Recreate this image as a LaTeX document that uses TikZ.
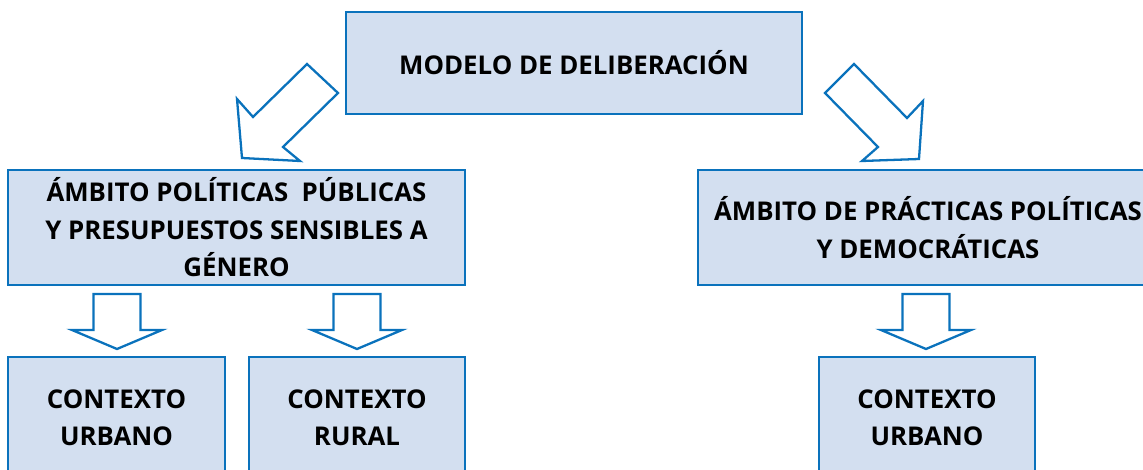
\documentclass[tikz,border=0pt]{standalone}
\usepackage{fontspec}
\setmainfont{Open Sans}
\usepackage{tikz}
\usetikzlibrary{positioning}

\definecolor{boxblue}{HTML}{0A72BC}
\definecolor{boxfill}{HTML}{D3DFF0}

\begin{document}
\begin{tikzpicture}[
    x=0.02cm, y=-0.02cm,
    box/.style={rectangle, draw=boxblue, line width=1.6pt, fill=boxfill, font=\fontsize{14.7}{21.3}\selectfont\bfseries, align=center, inner sep=0pt},
    blockarrow/.style={draw=boxblue, line width=1.3pt, fill=white, line join=miter},
]
    \useasboundingbox (0,0) rectangle (1143,470);
    \clip (0,0) rectangle (1143,470);

    % Top level
    \node[box, minimum width=9.12cm, minimum height=2.04cm] (modelo) at (574,63) {MODELO DE DELIBERACIÓN};

    % Second level
    \node[box, minimum width=9.14cm, minimum height=2.3cm] (publicas) at (236.5,227.5) {ÁMBITO POLÍTICAS\ \ PÚBLICAS\\Y PRESUPUESTOS SENSIBLES A\\GÉNERO};
    \node[box, minimum width=9.2cm, minimum height=2.3cm] (practicas) at (928,227.5) {ÁMBITO DE PRÁCTICAS POLÍTICAS\\Y DEMOCRÁTICAS};

    % Third level
    \node[box, minimum width=4.34cm, minimum height=2.44cm] (urbano) at (116.5,418) {CONTEXTO\\URBANO};
    \node[box, minimum width=4.32cm, minimum height=2.44cm] (rural) at (357,418) {CONTEXTO\\RURAL};
    \node[box, minimum width=4.32cm, minimum height=2.44cm] (urbanodos) at (927,418) {CONTEXTO\\URBANO};

    % Diagonal arrows from the top box
    \draw[blockarrow] (307,64) -- (338,93) -- (283,147) -- (300,161) -- (242,158) -- (237,99) -- (253,117) -- cycle;
    \draw[blockarrow] (854,64) -- (825,93) -- (878,147) -- (862,161) -- (919,159) -- (923,101) -- (907,118) -- cycle;

    % Down arrows to the contexts
    \foreach \cx in {117,357,926} {
        \draw[blockarrow] (\cx-23.5,294) -- (\cx+23.5,294) -- (\cx+23.5,330) -- (\cx+45,330) -- (\cx,349) -- (\cx-45,330) -- (\cx-23.5,330) -- cycle;
    }
\end{tikzpicture}
\end{document}
